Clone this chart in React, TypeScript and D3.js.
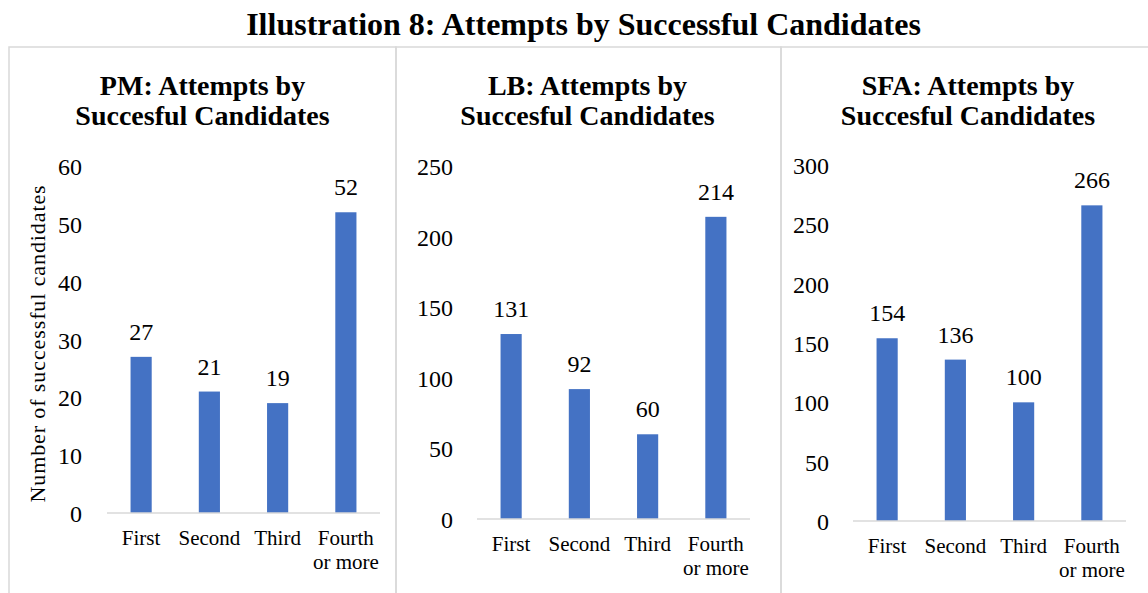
import React from "react";
import * as d3 from "d3";

const chartTitle = "Illustration 8: Attempts by Successful Candidates";
const categories = ["First", "Second", "Third", "Fourth or more"];
const pmValues = [27, 21, 19, 52];
const lbValues = [131, 92, 60, 214];
const sfaValues = [154, 136, 100, 266];
const pmTicks = [0, 10, 20, 30, 40, 50, 60];
const lbTicks = [0, 50, 100, 150, 200, 250];
const sfaTicks = [0, 50, 100, 150, 200, 250, 300];
const panelTitles = ["PM: Attempts by", "LB: Attempts by", "SFA: Attempts by"];
const subTitle = "Succesful Candidates";
const yAxisLabel = "Number of successful candidates";

const FONT = "'Liberation Serif', 'Times New Roman', serif";
const BAR = "#4472C4";
const GRID = "#d9d9d9";

type Panel = {
  title: string;
  values: number[];
  ticks: number[];
  x0: number; x1: number;
  yZero: number; yTop: number;
  tickRight: number;
  titleX: number;
  left: number; right: number;
};

const panels: Panel[] = [
  { title: panelTitles[0], values: pmValues, ticks: pmTicks, x0: 107, x1: 380, yZero: 513, yTop: 166, tickRight: 82, titleX: 202.5, left: 9, right: 396 },
  { title: panelTitles[1], values: lbValues, ticks: lbTicks, x0: 477, x1: 750, yZero: 519, yTop: 166, tickRight: 453, titleX: 587.5, left: 396, right: 781 },
  { title: panelTitles[2], values: sfaValues, ticks: sfaTicks, x0: 853, x1: 1126, yZero: 521, yTop: 165, tickRight: 829, titleX: 968, left: 781, right: 1160 },
];

function PanelChart({ p }: { p: Panel }) {
  const x = d3.scaleBand<string>().domain(categories).range([p.x0, p.x1]).paddingInner(0.69).paddingOuter(0.345);
  const y = d3.scaleLinear().domain([0, p.ticks[p.ticks.length - 1]]).range([p.yZero, p.yTop]);
  return (
    <g>
      <path d={`M${p.left},600 V47 H${p.right}${p.right < 1150 ? " V600" : ""}`} fill="none" stroke={GRID} strokeWidth={1.5} />
      <text x={p.titleX} y={95} textAnchor="middle" fontFamily={FONT} fontWeight="bold" fontSize={28} fill="#000">{p.title}</text>
      <text x={p.titleX} y={125} textAnchor="middle" fontFamily={FONT} fontWeight="bold" fontSize={28} fill="#000">{subTitle}</text>
      {p.ticks.map((t) => (
        <text key={t} x={p.tickRight} y={y(t) + 9} textAnchor="end" fontFamily={FONT} fontSize={24} fill="#000">{String(t)}</text>
      ))}
      {categories.map((c, i) => {
        const bx = x(c) as number;
        const bw = x.bandwidth();
        const cx = bx + bw / 2;
        const lines = c === "Fourth or more" ? ["Fourth", "or more"] : [c];
        return (
          <g key={c}>
            <rect x={bx} y={y(p.values[i])} width={bw} height={p.yZero - y(p.values[i])} fill={BAR} />
            <text x={cx} y={y(p.values[i]) - 17} textAnchor="middle" fontFamily={FONT} fontSize={24} fill="#000">{String(p.values[i])}</text>
            {lines.map((l, k) => (
              <text key={l} x={cx} y={p.yZero + 32 + k * 24} textAnchor="middle" fontFamily={FONT} fontSize={21} fill="#000">{l}</text>
            ))}
          </g>
        );
      })}
      <line x1={p.x0} x2={p.x1} y1={p.yZero} y2={p.yZero} stroke={GRID} strokeWidth={1.5} />
    </g>
  );
}

export default function App() {
  return (
    <svg width={1148} height={593} style={{ position: "absolute", left: 0, top: 0, background: "#fff" }}>
      <rect width={1148} height={593} fill="#fff" />
      <text x={583.5} y={35} textAnchor="middle" fontFamily={FONT} fontWeight="bold" fontSize={32} fill="#000">{chartTitle}</text>
      {panels.map((p) => (
        <PanelChart key={p.title} p={p} />
      ))}
      <text transform="translate(45,343.5) rotate(-90)" textAnchor="middle" fontFamily={FONT} fontSize={22} letterSpacing={0.9} fill="#000">{yAxisLabel}</text>
    </svg>
  );
}
